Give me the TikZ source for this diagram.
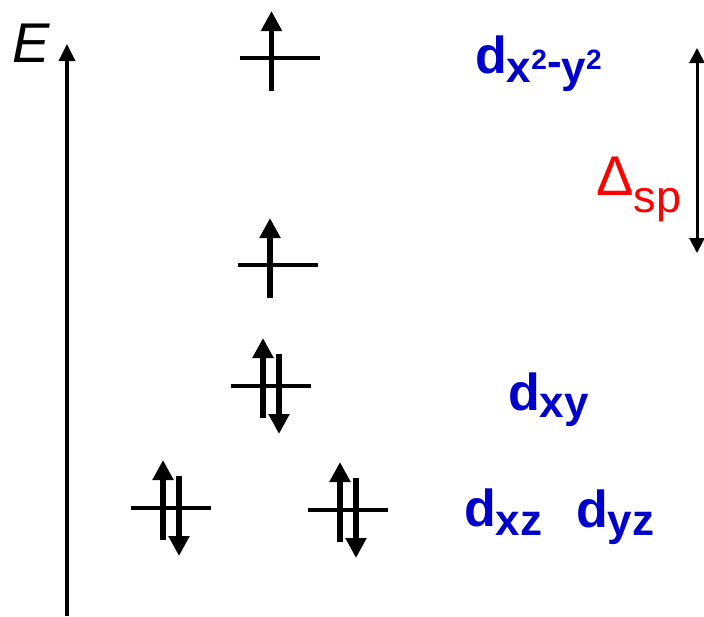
\documentclass[tikz,border=0pt]{standalone}
\usepackage{fontspec}
\setmainfont{Liberation Sans}
\usetikzlibrary{arrows.meta}
\definecolor{dblue}{RGB}{0,0,204}
\definecolor{dred}{RGB}{255,0,0}
\newcommand{\sz}[1]{\fontsize{#1}{#1}\selectfont}
\begin{document}
\begin{tikzpicture}[x=1pt,y=-1pt,
  level/.style={line width=4pt},
  spin/.style={line width=5.5pt,-{Triangle[width=20pt,length=20pt]}},
  axis/.style={line width=3.5pt,-{Triangle[width=16pt,length=17pt]}},
  gap/.style={line width=3pt,{Triangle[width=15pt,length=15pt]}-{Triangle[width=15pt,length=15pt]}},
  orb/.style={inner sep=0pt,anchor=base west,text=dblue,font=\bfseries},
  pics/single/.style={code={
    \draw[level] (-40,0) -- (40,0);
    \draw[spin] (-8,33) -- (-8,-47);}},
  pics/pair/.style={code={
    \draw[level] (-40,0) -- (40,0);
    \draw[spin] (-8,32) -- (-8,-48);
    \draw[spin] (8,-32) -- (8,48);}}]
\useasboundingbox (0,0) rectangle (704,616);
% energy axis
\coordinate (a0) at (67,616);
\coordinate (a1) at (67,44);
\draw[axis] (a0) -- (a1);
\node[inner sep=0pt,anchor=base west,font=\itshape\sz{56}] (E) at (12,62) {E};
% levels
\pic (l1) at (279.5,58) {single};
\pic (l2) at (278,265) {single};
\pic (l3) at (271,386) {pair};
\pic (l4) at (171,508) {pair};
\pic (l5) at (348,510) {pair};
% splitting arrow
\coordinate (g0) at (697,48);
\coordinate (g1) at (697,253);
\draw[gap] (g0) -- (g1);
\node[inner sep=0pt,anchor=base west,text=dred] (D) at (596,195)
  {\sz{56}\symbol{"0394}\raisebox{-17pt}{\sz{45}sp}};
% orbital labels
\node[orb] (t1) at (475,73) {\sz{52}d\raisebox{-9pt}{\sz{44}x\raisebox{13pt}{\sz{28}2}\raisebox{6pt}{-}y\raisebox{13pt}{\sz{28}2}}};
\node[orb] (t2) at (508,410) {\sz{52}d\raisebox{-7pt}{\sz{44}xy}};
\node[orb] (t3) at (464,526) {\sz{52}d\raisebox{-9pt}{\sz{44}xz}};
\node[orb] (t4) at (576,527) {\sz{52}d\raisebox{-8pt}{\sz{44}yz}};
\end{tikzpicture}
\end{document}
